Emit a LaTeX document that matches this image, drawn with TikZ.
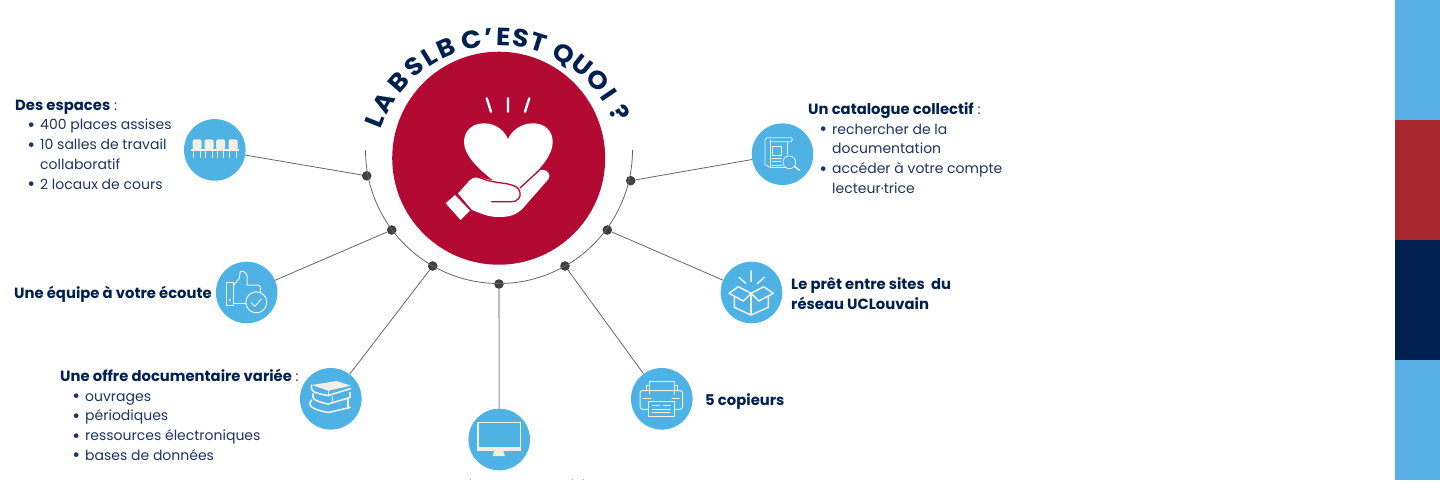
\documentclass[tikz,border=0pt]{standalone}
\usepackage{fontspec}
\usepackage{graphicx}
\setmainfont{Poppins}
\definecolor{navy}{HTML}{00214F}
\definecolor{txt}{HTML}{1D3561}
\definecolor{skyc}{HTML}{4FB2E5}
\definecolor{barsky}{HTML}{5AB1E8}
\definecolor{crim}{HTML}{B20A33}
\definecolor{barred}{HTML}{A7272F}
\definecolor{cream}{HTML}{F3EEE6}
\definecolor{wire}{HTML}{666666}
\definecolor{dotc}{HTML}{404040}
\newcommand{\fl}{\rule{0pt}{12pt}}
\newcommand{\bigbul}{\smash{\raisebox{-1.6pt}{\fontsize{19}{19}\selectfont\textbullet}}}
\newcommand{\bul}{\makebox[25pt][r]{\bigbul\hspace{5pt}}}
\newcommand{\bulb}{\makebox[17pt][r]{\bigbul\hspace{5pt}}}
\newcommand{\ind}{\hspace*{25pt}}
\newcommand{\hb}[1]{{\color{navy}\fontsize{14.8}{19.7}\selectfont\bfseries #1}}
\tikzset{
 iconc/.style={circle,fill=skyc,minimum size=61.6pt,inner sep=0pt},
 jdot/.style={circle,fill=dotc,minimum size=9.6pt,inner sep=0pt},
 wirel/.style={draw=wire,line width=0.8pt},
 txtb/.style={anchor=north west,inner sep=0pt,align=left,text=txt,font=\fontsize{14}{19.7}\selectfont},
 headb/.style={anchor=base west,inner sep=0pt,align=left,text=navy,font=\fontsize{14.8}{20}\selectfont\bfseries},
 ic/.style={draw=cream,line width=1.2pt,line join=round,line cap=round},
 letterb/.style={anchor=base,inner sep=0pt,text=navy,font=\fontsize{25}{25}\selectfont\bfseries},
}
\begin{document}
\begin{tikzpicture}[x=1pt,y=-1pt]
\useasboundingbox (0,0) rectangle (1440,480);
\fill[white] (0,0) rectangle (1440,480);
% side bars
\fill[barsky] (1395,0) rectangle (1440,120);
\fill[barred] (1395,120) rectangle (1440,240);
\fill[navy] (1395,240) rectangle (1440,360);
\fill[barsky] (1395,360) rectangle (1440,480);
% junctions and icon discs
\node[jdot] (j1) at (366.7,175.8) {};
\node[jdot] (j2) at (391.7,230) {};
\node[jdot] (j3) at (432.7,266) {};
\node[jdot] (j4) at (499,284) {};
\node[jdot] (j5) at (565,266) {};
\node[jdot] (j6) at (607.3,230) {};
\node[jdot] (j7) at (630.7,180.7) {};
\node[iconc] (seat) at (214.8,149.9) {};
\node[iconc] (thumb) at (246.7,292.5) {};
\node[iconc] (books) at (330.8,398.8) {};
\node[iconc] (screen) at (499.2,439.5) {};
\node[iconc] (printer) at (661.8,398.8) {};
\node[iconc] (box) at (751.5,292.5) {};
\node[iconc] (cata) at (782.5,154.2) {};
\draw[wirel] (seat) -- (j1);
\draw[wirel] (thumb) -- (j2);
\draw[wirel] (books) -- (j3);
\draw[draw=wire!70,line width=1.1pt] (screen) -- (j4);
\draw[wirel] (printer) -- (j5);
\draw[wirel] (box) -- (j6);
\draw[wirel] (cata) -- (j7);
\coordinate (arcA) at (365.5,150);
\draw[wirel] (arcA) arc[start angle=180,end angle=0,radius=133.5];
% central disc
\node[circle,fill=crim,minimum size=213pt,inner sep=0pt] (core) at (498.7,158.2) {};
% title, letter by letter on its arc
\foreach \ch/\a/\n in {L/-68.3/a,A/-59.8/b,B/-48.7/c,S/-39.4/d,L/-31.4/e,B/-23.4/f,C/-11.7/g,’/-4.5/h,E/1.9/i,S/9.6/j,T/17.4/k,Q/29.2/l,U/38.4/m,O/47.9/n,I/55.7/o,?/64.6/p}{
  \node[letterb,rotate=-\a] (title\n) at ({499+124.5*sin(\a)},{170-124.5*cos(\a)}) {\scalebox{1.06}[1]{\ch}};
}
% heart and hand
\draw[white,line width=2.4pt,line cap=round] (486.7,98.3) -- (491,111.7) (508,98.3) -- (508,111.7) (529.3,98.3) -- (525,111.7);
\fill[white] (508,139.3) .. controls (505,131) and (496,123.3) .. (484,123.3)
  .. controls (472,123.3) and (464,131) .. (464,142)
  .. controls (464,155) and (478,168) .. (490,178)
  -- (508,190) -- (530,178)
  .. controls (541,168) and (552.7,155) .. (552.7,142)
  .. controls (552.7,131) and (545,123.3) .. (533,123.3)
  .. controls (521,123.3) and (511,131) .. (508,139.3) -- cycle;
\fill[white] (458,193.5) -- (470,180) .. controls (474,176.5) and (480,176.5) .. (486,179)
  -- (512,184) -- (538,171.5) .. controls (544,167) and (552,172) .. (548.5,179)
  -- (524,207) .. controls (516,216) and (508,217) .. (498,217)
  .. controls (488,217) and (480,213) .. (472,210) -- cycle;
\draw[crim,line width=1.3pt,line cap=round] (491.7,201.7) -- (511,201.7) .. controls (518,201.7) and (521,197) .. (520,192.5) .. controls (519,187) and (514,185.5) .. (508,184) .. controls (500,182.5) and (490,182) .. (482,178.5) -- (476,176.5);
\draw[crim,line width=1.3pt,line cap=round] (520,188) -- (539,170.5);
\fill[white] (455,195) -- (445.7,203.3) -- (460.7,220) -- (470,210.7) -- cycle;
% seats
\foreach \cx in {197,209,220.7,233}{
  \fill[cream,rounded corners=1.5pt] (\cx-4.5,139.3) rectangle (\cx+4.5,149.5);
  \fill[cream] (\cx-5.8,149.3) rectangle (\cx+5.8,151.2);
  \draw[cream,line width=1pt] (\cx-3.2,151) -- (\cx-3.2,158.3) (\cx+3.2,151) -- (\cx+3.2,158.3);
}
% thumb
\begin{scope}[ic,line width=1pt]
\draw (226,282.3) rectangle (233.3,305.7);
\fill[cream] (229.7,300) circle (1.1);
\draw (233.3,285.7) -- (239.3,278.3) -- (240.3,271.7) .. controls (243,270.5) and (246,272) .. (247,276) -- (247,285) -- (258,285) .. controls (261,285.5) and (261,289) .. (260.3,292);
\draw (233.3,303.3) -- (246,303.3);
\draw (256.3,302.3) circle (10.5);
\draw (251.3,302.7) -- (255,306.3) -- (261.3,299);
\end{scope}
% books
\begin{scope}[ic,line width=1.6pt]
\draw (311.7,385) .. controls (310,390) and (312,393) .. (328.3,395.5) -- (350.7,388.5);
\draw (313.3,393.5) .. controls (311.5,398) and (313,401) .. (328.3,404) -- (350,397.5) -- (350,392.3);
\draw (311.7,400) .. controls (307.5,405) and (310,409) .. (328.3,412.5) -- (350,407.5);
\draw (348,398) -- (348,407.5);
\draw (328.3,391) -- (328.3,395.5);
\draw (332.5,397) -- (332.5,402.5);
\end{scope}
\fill[cream] (311.7,385) -- (336.7,381) -- (350.7,385.7) -- (328.3,390.7) -- cycle;
% monitor
\draw[cream,line width=1.4pt] (477.8,422.5) rectangle (520.2,450);
\fill[cream] (477.1,447.3) rectangle (520.9,450.7);
\fill[cream] (494.2,450.7) -- (503.2,450.7) -- (505,456) -- (492.6,456) -- cycle;
% printer
\begin{scope}[ic,line width=1pt]
\draw[rounded corners=2.5pt] (648.3,409.3) -- (640,409.3) -- (640,390.5) -- (682.7,390.5) -- (682.7,409.3) -- (674,409.3);
\draw (649.3,394) -- (649.3,381.7) -- (674,381.7) -- (674,394);
\draw (646.5,390.5) -- (646.5,385.7) -- (649.3,385.7) (677,390.5) -- (677,385.7) -- (674,385.7);
\draw (648.3,401.7) rectangle (674,416);
\draw (652,405.5) -- (660,405.5) (663,405.5) -- (670,405.5) (652,409) -- (670,409) (652,412.5) -- (670,412.5);
\draw (643,398) -- (651,398) (672,398) -- (679,398);
\end{scope}
% box
\begin{scope}[ic,line width=1.5pt]
\draw (751,270.7) -- (751,281.7) (739,277.3) -- (745.7,283.3) (764.3,277.3) -- (757.7,283.3);
\draw (734.3,296.5) -- (734.3,307.3) -- (751,315) -- (768.3,307.3) -- (768.3,296.5);
\draw (751,293.3) -- (738.3,286.7) -- (729,293.3) -- (743.3,301) -- cycle;
\draw (751,293.3) -- (763.7,286.7) -- (773.3,293.3) -- (758.7,301) -- cycle;
\draw (751,293.3) -- (751,315);
\end{scope}
% catalogue
\begin{scope}[draw=cream,line width=0.8pt,line join=round,line cap=round]
\draw (770,141.7) -- (791,141.7) .. controls (793,140.5) and (793,138) .. (791,137.7) -- (767,137.7) .. controls (765,138) and (765,140) .. (765,141) -- (765,164.3) -- (770,167.7);
\draw (770,140) -- (770,167.7) -- (786.7,167.7);
\draw (787.5,141.7) -- (787.5,155);
\draw (772.3,146.7) rectangle (781.7,155.7);
\draw (772.3,158.3) -- (781.5,158.3) (772.3,161.7) -- (780.5,161.7) (772.3,165) -- (781.5,165);
\draw (789.3,162.3) circle (6.4);
\draw[line width=1.5pt] (794.5,166.5) -- (799.3,170);
\end{scope}
% clipped fragments of the text under the picture
\draw[txt!40,line width=0.7pt] (470,479) -- (470,480);
\draw[txt!40,line width=0.7pt] (572,479) -- (572,480);
\draw[txt!40,line width=0.7pt] (583,479) -- (583,480);
% texts
\node[txtb] (t1) at (15,98) {\fl\hb{Des espaces} :\\
 \bul 400 places assises\\ \bul 10 salles de travail\\ \ind collaboratif\\ \bul 2 locaux de cours};
\node[txtb] (t2) at (808,102) {\fl\hb{Un catalogue collectif} :};
\node[txtb] (t2b) at (815,122) {\fl\bulb rechercher de la\\ \hspace*{17pt}documentation\\ \bulb accéder à votre compte\\ \hspace*{17pt}lecteur·trice};
\node[headb] (t3) at (14,298) {Une équipe à votre écoute};
\node[headb,anchor=north west] (t4) at (791,277) {\fl Le prêt entre sites~ du\\ réseau UCLouvain};
\node[headb] (t5) at (705,405) {5 copieurs};
\node[txtb] (t6) at (60,369) {\fl\hb{Une offre documentaire variée} :\\
 \bul ouvrages\\ \bul périodiques\\ \bul ressources électroniques\\ \bul bases de données};
\end{tikzpicture}
\end{document}
